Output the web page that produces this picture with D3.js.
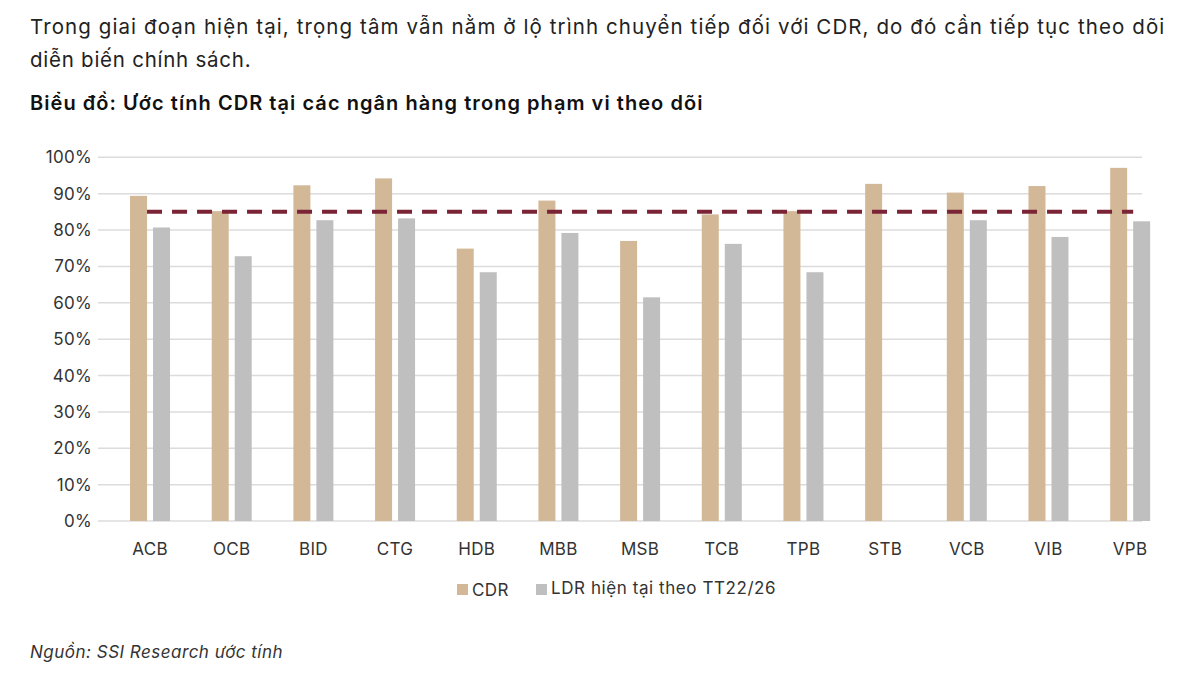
<!DOCTYPE html><html><head><meta charset="utf-8"><script src="https://cdn.jsdelivr.net/npm/d3@7"></script>
<style>body{margin:0;background:#fff;font-family:Inter,"Noto Sans",sans-serif}</style></head><body><svg id="c" width="1200" height="696"></svg>
<script>
const categories=["ACB","OCB","BID","CTG","HDB","MBB","MSB","TCB","TPB","STB","VCB","VIB","VPB"];
const cdr=[89.4,85.2,92.3,94.2,74.9,88.1,77,84.3,85.2,92.7,90.3,92.1,97.1];
const ldr=[80.7,72.8,82.7,83.2,68.4,79.2,61.5,76.2,68.4,null,82.7,78.1,82.4];
const target=85;
const yTicks=[0,10,20,30,40,50,60,70,80,90,100];
const svg=d3.select("#c");
svg.append("text").attr("x",30).attr("y",34).attr("font-size",20.5).attr("letter-spacing",0.75).attr("fill","#222").attr("textLength",1135).text("Trong giai đoạn hiện tại, trọng tâm vẫn nằm ở lộ trình chuyển tiếp đối với CDR, do đó cần tiếp tục theo dõi");
svg.append("text").attr("x",30).attr("y",67).attr("font-size",20.5).attr("letter-spacing",0.75).attr("fill","#222").text("diễn biến chính sách.");
svg.append("text").attr("x",30).attr("y",110).attr("font-size",20).attr("font-weight",600).attr("letter-spacing",0.6).attr("fill","#111").attr("textLength",673).text("Biểu đồ: Ước tính CDR tại các ngân hàng trong phạm vi theo dõi");
const y=d3.scaleLinear().domain([0,100]).range([521,157.3]);
const x=d3.scaleBand().domain(categories).range([109.2,1171]);
const g=svg.append("g");
yTicks.forEach(t=>{
 g.append("line").attr("x1",98).attr("x2",1142).attr("y1",y(t)).attr("y2",y(t)).attr("stroke","#dcdcdc").attr("stroke-width",1.5);
 g.append("text").attr("x",92).attr("y",y(t)+6).attr("text-anchor","end").attr("font-size",17).attr("letter-spacing",0.3).attr("fill","#333").text(t+"%");
});
const bw=17;
categories.forEach((c,i)=>{
 const cx=x(c)+x.bandwidth()/2;
 g.append("rect").attr("x",cx-20).attr("width",bw).attr("y",y(cdr[i])).attr("height",y(0)-y(cdr[i])).attr("fill","#d3b898");
 if(ldr[i]!=null) g.append("rect").attr("x",cx+3).attr("width",bw).attr("y",y(ldr[i])).attr("height",y(0)-y(ldr[i])).attr("fill","#bfbfbf");
 g.append("text").attr("x",cx).attr("y",555).attr("text-anchor","middle").attr("font-size",17).attr("letter-spacing",0.3).attr("fill","#333").text(c);
});
g.append("line").attr("x1",x(categories[0])+x.bandwidth()/2-3).attr("x2",x(categories[12])+x.bandwidth()/2+3).attr("y1",y(target)).attr("y2",y(target)).attr("stroke","#7b2436").attr("stroke-width",4).attr("stroke-dasharray","15,10");
g.append("rect").attr("x",457).attr("y",584).attr("width",11).attr("height",11).attr("fill","#d3b898");
g.append("text").attr("x",472).attr("y",596).attr("font-size",17).attr("letter-spacing",0.4).attr("fill","#333").text("CDR");
g.append("rect").attr("x",536).attr("y",584).attr("width",11).attr("height",11).attr("fill","#bfbfbf");
g.append("text").attr("x",551).attr("y",594).attr("font-size",17).attr("letter-spacing",0.4).attr("fill","#333").attr("textLength",225).text("LDR hiện tại theo TT22/26");
svg.append("text").attr("x",30).attr("y",658).attr("font-size",17).attr("font-style","italic").attr("letter-spacing",0.4).attr("fill","#333").attr("textLength",253).text("Nguồn: SSI Research ước tính");
</script></body></html>
